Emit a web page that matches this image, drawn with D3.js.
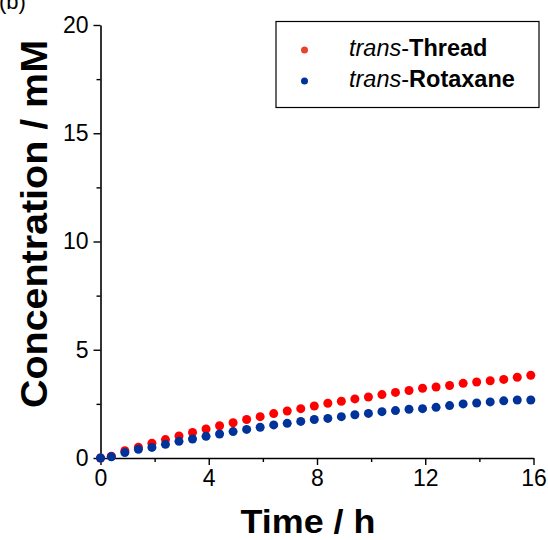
<!DOCTYPE html>
<html>
<head>
<meta charset="utf-8">
<script src="https://cdn.jsdelivr.net/npm/d3@7"></script>
<style>
  body { margin: 0; background: #fff; }
  svg text { font-family: "Liberation Sans", Arial, Helvetica, sans-serif; }
</style>
</head>
<body>
<script>
// time points (h)
var times = [0, 0.4, 0.9, 1.4, 1.9, 2.4, 2.9, 3.4, 3.9, 4.4, 4.9, 5.4, 5.9, 6.4, 6.9, 7.4, 7.9,
  8.4, 8.9, 9.4, 9.9, 10.4, 10.9, 11.4, 11.9, 12.4, 12.9, 13.4, 13.9, 14.4, 14.9, 15.4, 15.9];
// trans-Thread concentration (mM)
var threadConc = [0, 0.08, 0.34, 0.5, 0.68, 0.85, 1.02, 1.18, 1.34, 1.49, 1.63, 1.78, 1.91, 2.05, 2.17, 2.28, 2.4,
  2.53, 2.62, 2.73, 2.82, 2.93, 3.03, 3.12, 3.22, 3.28, 3.35, 3.45, 3.51, 3.57, 3.63, 3.73, 3.82];
// trans-Rotaxane concentration (mM)
var rotaxaneConc = [0, 0.06, 0.25, 0.4, 0.49, 0.63, 0.77, 0.88, 1.0, 1.11, 1.22, 1.32, 1.42, 1.53, 1.6, 1.69, 1.78,
  1.83, 1.91, 2.0, 2.06, 2.14, 2.19, 2.25, 2.28, 2.34, 2.42, 2.5, 2.54, 2.59, 2.64, 2.68, 2.68];

var xTicks = [0, 4, 8, 12, 16];
var xMinor = [2, 6, 10, 14];
var yTicks = [0, 5, 10, 15, 20];
var yMinor = [2.5, 7.5, 12.5, 17.5];

var width = 548, height = 540;

var svg = d3.select('body').append('svg')
  .attr('width', width)
  .attr('height', height);

var x = d3.scaleLinear().domain([0, 16]).range([100.5, 533.5]);
var y = d3.scaleLinear().domain([0, 20]).range([458, 25]);

// panel label (cut by the top edge, as in the original figure)
svg.append('text')
  .attr('x', -1)
  .attr('y', 9)
  .attr('font-size', 22)
  .text('(b)');

// x axis
var gx = svg.append('g').attr('transform', 'translate(0,' + y(0) + ')');
gx.call(d3.axisBottom(x).tickValues(xTicks).tickSize(7).tickSizeOuter(0).tickPadding(5));
gx.append('g').call(d3.axisBottom(x).tickValues(xMinor).tickSize(4).tickFormat(''));

// y axis
var gy = svg.append('g').attr('transform', 'translate(' + x(0) + ',0)');
gy.call(d3.axisLeft(y).tickValues(yTicks).tickSize(7).tickSizeOuter(0).tickPadding(5));
gy.append('g').call(d3.axisLeft(y).tickValues(yMinor).tickSize(4).tickFormat(''));

svg.selectAll('.domain').attr('stroke', '#000').attr('stroke-width', 1.6);
svg.selectAll('.tick line').attr('stroke', '#000').attr('stroke-width', 1.4);
svg.selectAll('.tick text')
  .attr('font-size', 23)
  .attr('font-family', '"Liberation Sans", Arial, Helvetica, sans-serif')
  .attr('fill', '#000');
gx.selectAll('g g .domain').remove();
gy.selectAll('g g .domain').remove();

// axis titles (original font is a bit wider than Liberation, stretch to fit)
svg.append('text')
  .attr('x', 308)
  .attr('y', 533)
  .attr('text-anchor', 'middle')
  .attr('font-size', 33)
  .attr('font-weight', 'bold')
  .attr('textLength', 135)
  .attr('lengthAdjust', 'spacingAndGlyphs')
  .text('Time / h');

svg.append('text')
  .attr('transform', 'translate(47,224) rotate(-90)')
  .attr('text-anchor', 'middle')
  .attr('font-size', 36)
  .attr('font-weight', 'bold')
  .attr('textLength', 368)
  .attr('lengthAdjust', 'spacingAndGlyphs')
  .text('Concentration / mM');

// data points
svg.append('g').selectAll('circle')
  .data(times)
  .join('circle')
  .attr('cx', function(d) { return x(d); })
  .attr('cy', function(d, i) { return y(threadConc[i]); })
  .attr('r', 4.5)
  .attr('fill', '#ff0000');

svg.append('g').selectAll('circle')
  .data(times)
  .join('circle')
  .attr('cx', function(d) { return x(d); })
  .attr('cy', function(d, i) { return y(rotaxaneConc[i]); })
  .attr('r', 4.5)
  .attr('fill', '#003399');

// legend
var legend = svg.append('g');
legend.append('rect')
  .attr('x', 276)
  .attr('y', 21.5)
  .attr('width', 263)
  .attr('height', 86)
  .attr('fill', '#fff')
  .attr('stroke', '#000')
  .attr('stroke-width', 1.2);

var legendItems = [
  { name: 'Thread', color: '#e8432c', cy: 50 },
  { name: 'Rotaxane', color: '#003399', cy: 81 }
];
legendItems.forEach(function(it) {
  legend.append('circle')
    .attr('cx', 304.5)
    .attr('cy', it.cy)
    .attr('r', 3.5)
    .attr('fill', it.color);
  var t = legend.append('text')
    .attr('x', 349)
    .attr('y', it.cy + 6)
    .attr('font-size', 23.5);
  t.append('tspan').attr('font-style', 'italic').text('trans');
  t.append('tspan').text('-');
  t.append('tspan').attr('font-weight', 'bold').text(it.name);
});
</script>
</body>
</html>
